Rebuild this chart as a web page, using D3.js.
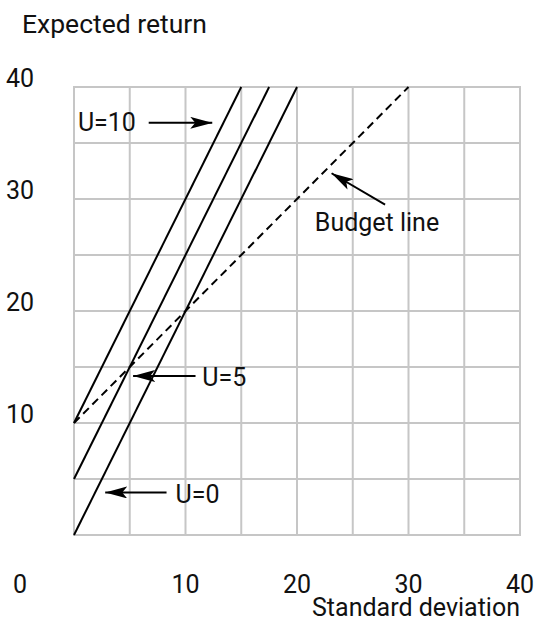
<!DOCTYPE html>
<html>
<head>
<meta charset="utf-8">
<script src="https://cdn.jsdelivr.net/npm/d3@7"></script>
<style>
  body { margin: 0; background: #fff; }
  text { font-family: Roboto, sans-serif; fill: #111; }
</style>
</head>
<body>
<div id="chart"></div>
<script>
(function() {
  // grid ticks (step 5) and labelled ticks
  var gridTicks = [0, 5, 10, 15, 20, 25, 30, 35, 40];
  var xLabels = [10, 20, 30, 40];
  var yLabels = [10, 20, 30, 40];

  // indifference curves E = 2*sd + U, drawn up to E = 40
  var utilities = [0, 5, 10];
  var curveSlope = 2;
  var curveEnds = [20, 17.5, 15];

  // budget line E = 10 + sd
  var budget = [[0, 10], [30, 40]];

  // annotations: label anchor + arrow from -> to (data units)
  var notes = [
    { text: 'U=10', lx: 0.35, ly: 36.1, from: [6.7, 36.8], to: [12.4, 36.8] },
    { text: 'U=5', lx: 11.5, ly: 13.3, from: [10.9, 14.2], to: [5.3, 14.2] },
    { text: 'U=0', lx: 9.1, ly: 2.9, from: [8.3, 3.8], to: [2.8, 3.8] },
    { text: 'Budget line', lx: 21.6, ly: 27.1, from: [27.9, 29.5], to: [23.1, 32.3] }
  ];

  var width = 536, height = 621;
  var fs = '25px';
  var svg = d3.select('#chart').append('svg')
    .attr('width', width)
    .attr('height', height);

  var x = d3.scaleLinear().domain([0, 40]).range([74, 520]);
  var y = d3.scaleLinear().domain([0, 40]).range([535, 87]);

  svg.append('defs').append('marker')
    .attr('id', 'head')
    .attr('viewBox', '0 0 22 12')
    .attr('refX', 22)
    .attr('refY', 6)
    .attr('markerWidth', 22)
    .attr('markerHeight', 12)
    .attr('markerUnits', 'userSpaceOnUse')
    .attr('orient', 'auto')
    .append('path')
    .attr('d', 'M0,0 L22,6 L0,12 L5,6 Z')
    .attr('fill', '#000');

  var grid = svg.append('g');
  grid.selectAll('.gx').data(gridTicks).enter().append('line')
    .attr('x1', function(d) { return x(d); })
    .attr('x2', function(d) { return x(d); })
    .attr('y1', y(0))
    .attr('y2', y(40))
    .attr('stroke', '#c6c6c6')
    .attr('stroke-width', 2);
  grid.selectAll('.gy').data(gridTicks).enter().append('line')
    .attr('y1', function(d) { return y(d); })
    .attr('y2', function(d) { return y(d); })
    .attr('x1', x(0) - 1)
    .attr('x2', x(40) + 1)
    .attr('stroke', '#c6c6c6')
    .attr('stroke-width', 2);

  var line = d3.line()
    .x(function(d) { return x(d[0]); })
    .y(function(d) { return y(d[1]); });

  svg.selectAll('.curve').data(utilities).enter().append('path')
    .attr('d', function(u, i) {
      return line([[0, u], [curveEnds[i], u + curveSlope * curveEnds[i]]]);
    })
    .attr('fill', 'none')
    .attr('stroke', '#000')
    .attr('stroke-width', 2);

  svg.append('path')
    .attr('d', line(budget))
    .attr('fill', 'none')
    .attr('stroke', '#000')
    .attr('stroke-width', 2)
    .attr('stroke-dasharray', '8,5');

  // tick labels
  svg.selectAll('.ylab').data(yLabels).enter().append('text')
    .attr('x', 20)
    .attr('y', function(d) { return y(d); })
    .attr('text-anchor', 'middle')
    .style('font-size', fs)
    .text(function(d) { return d; });
  svg.selectAll('.xlab').data(xLabels).enter().append('text')
    .attr('x', function(d) { return x(d); })
    .attr('y', 593)
    .attr('text-anchor', 'middle')
    .style('font-size', fs)
    .text(function(d) { return d; });
  svg.append('text')
    .attr('x', 20)
    .attr('y', 593)
    .attr('text-anchor', 'middle')
    .style('font-size', fs)
    .text('0');

  svg.append('text')
    .attr('x', 22)
    .attr('y', 33)
    .style('font-size', '26.5px')
    .text('Expected return');
  svg.append('text')
    .attr('x', 520)
    .attr('y', 616)
    .attr('text-anchor', 'end')
    .style('font-size', fs)
    .text('Standard deviation');

  // annotations
  var ann = svg.selectAll('.note').data(notes).enter().append('g');
  ann.append('text')
    .attr('x', function(d) { return x(d.lx); })
    .attr('y', function(d) { return y(d.ly); })
    .style('font-size', fs)
    .text(function(d) { return d.text; });
  ann.append('line')
    .attr('x1', function(d) { return x(d.from[0]); })
    .attr('y1', function(d) { return y(d.from[1]); })
    .attr('x2', function(d) { return x(d.to[0]); })
    .attr('y2', function(d) { return y(d.to[1]); })
    .attr('stroke', '#000')
    .attr('stroke-width', 2)
    .attr('marker-end', 'url(#head)');
})();
</script>
</body>
</html>
